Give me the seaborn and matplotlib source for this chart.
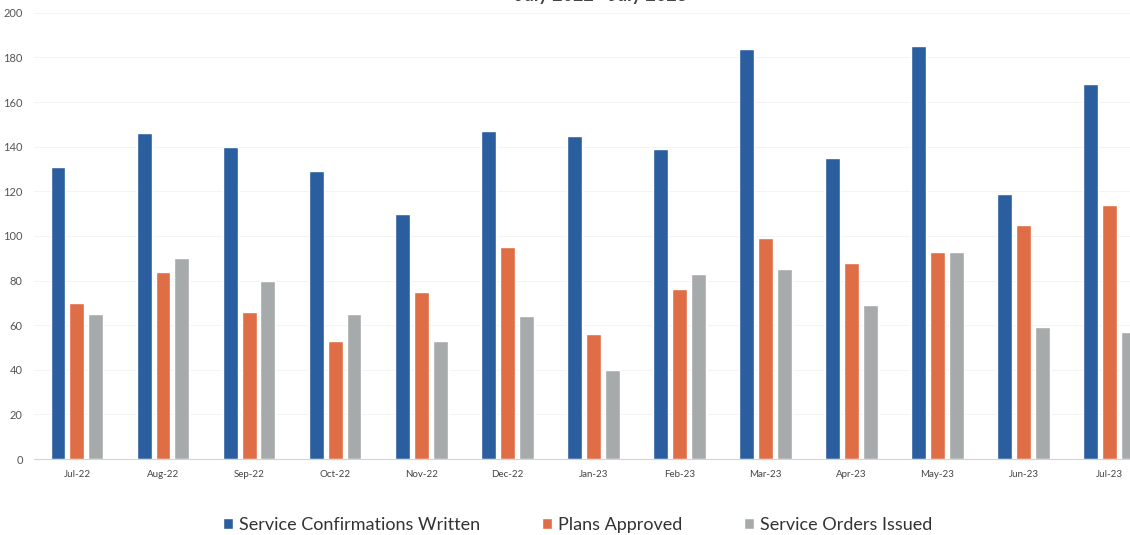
import matplotlib
matplotlib.use("Agg")
import matplotlib.pyplot as plt
import numpy as np
import pandas as pd
import seaborn as sns

# data
months = ["Jul-22", "Aug-22", "Sep-22", "Oct-22", "Nov-22", "Dec-22", "Jan-23",
          "Feb-23", "Mar-23", "Apr-23", "May-23", "Jun-23", "Jul-23"]
confirmations = [131, 146, 140, 129, 110, 147, 145, 139, 184, 135, 185, 119, 168]
plans = [70, 84, 66, 53, 75, 95, 56, 76, 99, 88, 93, 105, 114]
orders = [65, 90, 80, 65, 53, 64, 40, 83, 85, 69, 93, 59, 57]
series = ["Service Confirmations Written", "Plans Approved", "Service Orders Issued"]
colors = ["#2B5E9E", "#DF6D45", "#A7AAAB"]

long_df = pd.DataFrame({
    "Month": months * 3,
    "Count": confirmations + plans + orders,
    "Series": [series[0]] * len(months) + [series[1]] * len(months) + [series[2]] * len(months),
})

sns.set_style("white")
plt.rcParams['font.family'] = ['Lato', 'DejaVu Sans']

fig = plt.figure(figsize=(11.3, 5.35), dpi=100)
ax = fig.add_axes([0.030, 0.142, 0.990, 0.834])

sns.barplot(data=long_df, x="Month", y="Count", hue="Series", order=months,
            hue_order=series, palette=colors, width=0.66, gap=0.21,
            saturation=1, ax=ax, legend=True)

ax.set_ylim(0, 200)
ax.set_yticks(np.arange(0, 201, 20))
ax.set_xlabel("")
ax.set_ylabel("")
ax.tick_params(axis="y", length=0, pad=8, labelsize=8, labelcolor="#555555")
ax.tick_params(axis="x", length=0, pad=8, labelsize=7, labelcolor="#444444")
for s in ["top", "right", "left"]:
    ax.spines[s].set_visible(False)
ax.spines["bottom"].set_color("#d4d4d4")
ax.grid(axis="y", color="#f3f3f3", linewidth=0.6)
ax.set_axisbelow(True)

# title is cut off at top of the scan
fig.text(0.532, 0.993, "July 2022 - July 2023", ha="center", va="bottom",
         fontsize=13, fontweight="bold", color="#444444")

ax.legend(loc="center", bbox_to_anchor=(0.486, -0.147), ncol=3, frameon=False,
          fontsize=13, handlelength=0.55, handleheight=0.55, handletextpad=0.35,
          columnspacing=3.4, labelcolor="#333333")

fig.savefig("out.png", dpi=100)
